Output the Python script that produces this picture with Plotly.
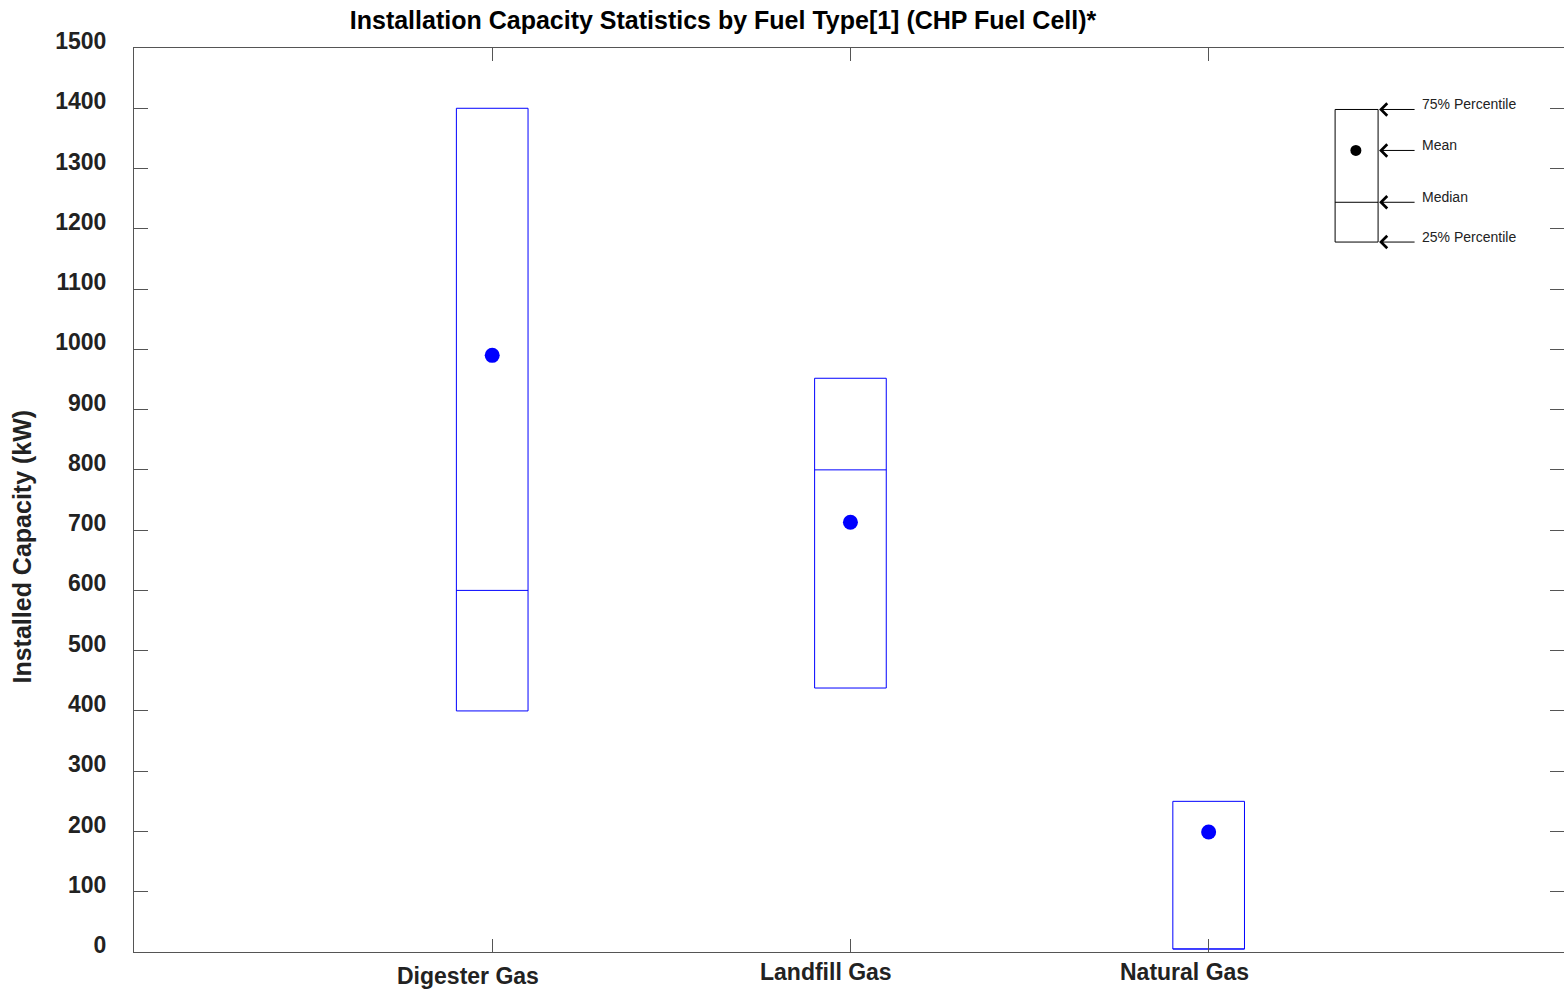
import plotly.graph_objects as go

# Installed capacity statistics (kW) per fuel type
categories = ["Digester Gas", "Landfill Gas", "Natural Gas"]
q1_values = [400, 438, 5]
median_values = [600, 800, 5]
q3_values = [1400, 952, 250]
mean_values = [990, 713, 199]

y_ticks = list(range(0, 1501, 100))

BLUE = "#0000FF"
AXIS_GREY = "#555555"
TEXT = "#222222"
FONT = "Liberation Sans, Arial, sans-serif"

positions = [i + 1 for i in range(len(categories))]
half_w = 0.1

# Rectangles from the 25th to the 75th percentile
box_x, box_y = [], []
for p, lo, hi in zip(positions, q1_values, q3_values):
    box_x += [p - half_w, p + half_w, p + half_w, p - half_w, p - half_w, None]
    box_y += [lo, lo, hi, hi, lo, None]

# Median lines
med_x, med_y = [], []
for p, m in zip(positions, median_values):
    med_x += [p - half_w, p + half_w, None]
    med_y += [m, m, None]

fig = go.Figure()
fig.add_trace(go.Scatter(x=box_x, y=box_y, mode="lines",
                         line=dict(color=BLUE, width=1), hoverinfo="skip"))
fig.add_trace(go.Scatter(x=med_x, y=med_y, mode="lines",
                         line=dict(color=BLUE, width=1), hoverinfo="skip"))
fig.add_trace(go.Scatter(x=positions, y=mean_values, mode="markers",
                         marker=dict(color=BLUE, size=15, line=dict(width=0))))

# Explanatory key in the upper right corner
kx0, kx1, kxm = 3.353, 3.473, 3.411
k_q1, k_med, k_mean, k_q3 = 1178, 1244, 1330, 1398
fig.add_trace(go.Scatter(x=[kx0, kx1, kx1, kx0, kx0, None, kx0, kx1],
                         y=[k_q1, k_q1, k_q3, k_q3, k_q1, None, k_med, k_med],
                         mode="lines", line=dict(color="black", width=1),
                         hoverinfo="skip"))
fig.add_trace(go.Scatter(x=[kxm], y=[k_mean], mode="markers",
                         marker=dict(color="black", size=11)))

annotations = []
for label, yv in [("75% Percentile", k_q3), ("Mean", k_mean),
                  ("Median", k_med), ("25% Percentile", k_q1)]:
    annotations.append(dict(x=kx1, y=yv, xref="x", yref="y", text="",
                            showarrow=True, ax=38, ay=0, arrowhead=4,
                            arrowsize=2.4, arrowwidth=1, arrowcolor="black",
                            standoff=1))
    annotations.append(dict(x=kx1, y=yv, xref="x", yref="y", text=label,
                            showarrow=False, xanchor="left", yanchor="middle",
                            xshift=42, yshift=5,
                            font=dict(family=FONT, size=14, color=TEXT)))

# Category labels under the axis
for p, name, dy in zip(positions, categories, [-24, -20, -20]):
    annotations.append(dict(x=p, y=0, xref="x", yref="paper", text=f"<b>{name}</b>",
                            showarrow=False, xanchor="center", yanchor="middle",
                            xshift=-24, yshift=dy,
                            font=dict(family=FONT, size=23, color=TEXT)))

# Y axis title
annotations.append(dict(x=-0.0783, y=0.4486, xref="paper", yref="paper",
                        text="<b>Installed Capacity (kW)</b>", textangle=-90,
                        showarrow=False, xanchor="center", yanchor="middle",
                        font=dict(family=FONT, size=25, color=TEXT)))

fig.update_layout(
    width=1564, height=990,
    margin=dict(l=134, r=0, t=48, b=38),
    paper_bgcolor="white", plot_bgcolor="white",
    showlegend=False,
    title=dict(text="<b>Installation Capacity Statistics by Fuel Type[1] (CHP Fuel Cell)*</b>",
               x=723 / 1564, xanchor="center",
               y=1 - 20 / 990, yanchor="middle",
               font=dict(family=FONT, size=25, color="black")),
    annotations=annotations,
    xaxis=dict(range=[0, 3.992], tickvals=positions, showticklabels=False,
               ticks="inside", ticklen=13, tickcolor=AXIS_GREY, tickwidth=1,
               showline=True, linecolor=AXIS_GREY, linewidth=1, mirror="ticks",
               showgrid=False, zeroline=False, fixedrange=True),
    yaxis=dict(range=[0, 1500], tickvals=y_ticks, ticktext=[str(v) for v in y_ticks],
               ticks="inside", ticklen=14, tickcolor=AXIS_GREY, tickwidth=1,
               showline=True, linecolor=AXIS_GREY, linewidth=1, mirror="ticks",
               showgrid=False, zeroline=False, fixedrange=True,
               ticklabelstandoff=22, ticklabelshift=-7,
               tickfont=dict(family=FONT, size=23, color=TEXT, weight="bold")),
)

fig.write_html("out.html", config={"displayModeBar": False})
